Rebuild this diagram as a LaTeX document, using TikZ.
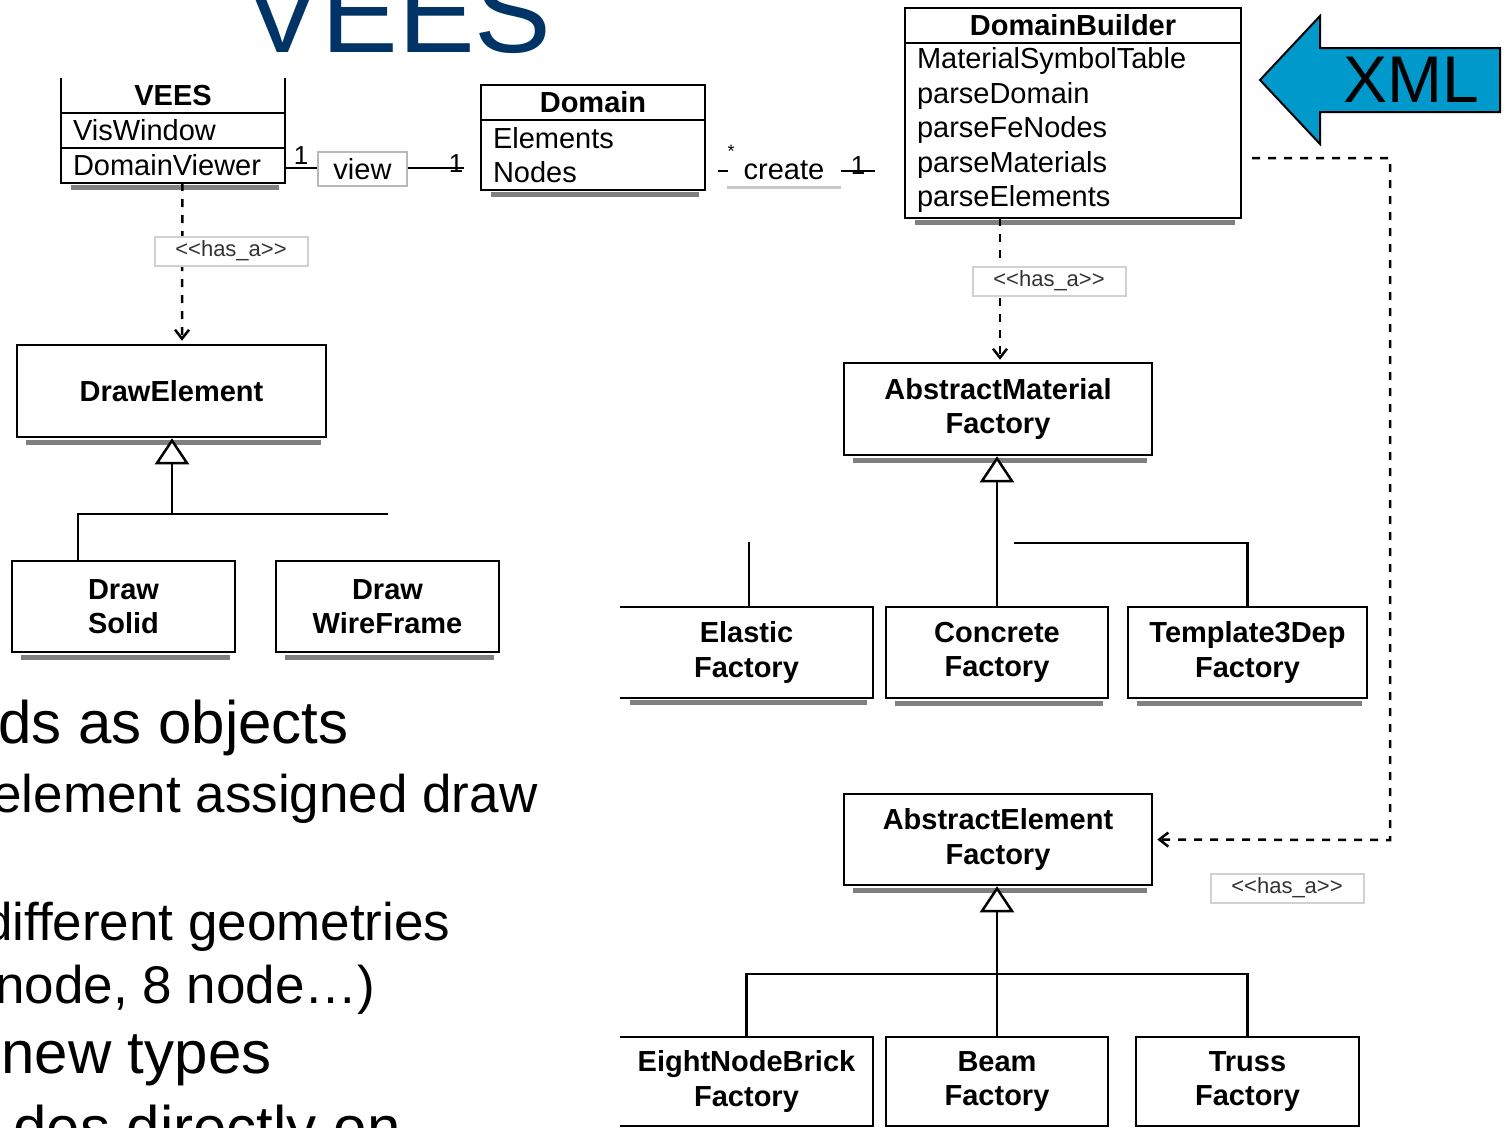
\documentclass[tikz,border=0pt]{standalone}
\usepackage{fontspec}
\setmainfont{Liberation Sans}
\usepackage{xcolor}
\usetikzlibrary{arrows.meta,positioning,calc}

\definecolor{titleblue}{RGB}{0,51,102}
\definecolor{xmlblue}{RGB}{0,153,204}

\newcommand{\umlfont}{\fontsize{29}{34.5}\selectfont}
\newcommand{\tagfont}{\fontsize{22}{26}\selectfont}
\newcommand{\bodyfont}{\fontsize{60}{70}\selectfont}
\newcommand{\subfont}{\fontsize{53}{62}\selectfont}

\tikzset{
  cls/.style={draw, line width=2.5pt, fill=white, font=\umlfont\bfseries, align=center,
    inner sep=0pt, minimum width=223pt, minimum height=91pt},
  hdr/.style={draw, line width=2.5pt, font=\umlfont\bfseries, inner sep=0pt, outer sep=0pt, minimum height=35pt},
  attr/.style={draw, line width=2.5pt, font=\umlfont, align=left, inner xsep=12pt, inner ysep=0pt, outer sep=0pt},
  shadowbar/.style={draw=black!50, line width=5pt},
  tree/.style={line width=2.5pt},
  inherit/.style={line width=2.5pt, -{Triangle[length=26pt,width=34pt,fill=white]}},
  hasa/.style={line width=2.5pt, dash pattern=on 8pt off 8pt, -{Straight Barb[length=9pt,width=14pt]}},
  tagbox/.style={draw=black!18, line width=2pt, fill=white, font=\tagfont, text=black!80,
    minimum width=153pt, minimum height=29pt, inner sep=0pt},
  assoc/.style={line width=2.5pt},
  mult/.style={font=\fontsize{26}{26}\selectfont, inner sep=0pt},
}

\begin{document}
\begin{tikzpicture}[x=1pt, y=-1pt]
  \useasboundingbox (0,0) rectangle (1509,1127);
  \clip (0,0) rectangle (1509,1127);

  % Title
  \node[font=\fontsize{115}{115}\selectfont, text=titleblue, anchor=base] (title) at (398,52) {VEES};

  % Slide text (cut at the left)
  \node[anchor=base east, font=\bodyfont] (txt1) at (352,743) {ds as objects};
  \node[anchor=base east, font=\subfont] (txt2) at (541,812) {element assigned draw};
  \node[anchor=base east, font=\subfont] (txt3) at (454,940) {different geometries};
  \node[anchor=base east, font=\subfont] (txt4) at (379,1003) {node, 8 node…)};
  \node[anchor=base east, font=\bodyfont] (txt5) at (275,1073) {new types};
  \node[anchor=base east, font=\bodyfont] (txt6) at (404,1148) {des directly on};

  % VEES class (top edge hidden)
  \node[hdr, draw=none, minimum width=224pt] (vees) at (173,95.5) {VEES};
  \draw[tree] (vees.north west) -- (vees.south west) -- (vees.south east) -- (vees.north east);
  \node[attr, text width=200pt, minimum height=35pt, below=0pt of vees] (vees-win) {VisWindow};
  \node[attr, text width=200pt, minimum height=35pt, below=0pt of vees-win] (vees-view) {DomainViewer};

  % Domain class
  \node[hdr, minimum width=224pt] (dom) at (593,102.5) {Domain};
  \node[attr, text width=200pt, minimum height=70pt, below=0pt of dom] (dom-body) {Elements\\Nodes};

  % DomainBuilder class
  \node[hdr, minimum width=336pt] (db) at (1073,25.5) {DomainBuilder};
  \node[attr, text width=312pt, minimum height=175pt, below=0pt of db] (db-body)
    {MaterialSymbolTable\\parseDomain\\parseFeNodes\\parseMaterials\\parseElements};

  % XML arrow
  \draw[line width=2pt, fill=xmlblue] (1260,80) -- (1320,16) -- (1320,48) -- (1500,48)
    -- (1500,112) -- (1320,112) -- (1320,144) -- cycle;
  \node[font=\fontsize{66}{66}\selectfont] (xml) at (1411,80) {XML};

  % Draw classes
  \node[cls, minimum width=309pt, minimum height=92pt] (drawel) at (171.5,391) {DrawElement};
  \node[cls] (solid) at (123.5,606.5) {Draw\\Solid};
  \node[cls] (wire) at (387.5,606.5) {Draw\\WireFrame};

  % Material factories
  \node[cls, minimum width=308pt, minimum height=92pt] (absmat) at (998,409) {AbstractMaterial\\Factory};
  \node[cls, draw=none, outer sep=0pt, minimum width=253pt] (elastic) at (746.5,652.5) {Elastic\\Factory};
  \draw[tree] (elastic.north west) -- (elastic.north east) -- (elastic.south east) -- (elastic.south west);
  \node[cls, minimum width=222pt] (concrete) at (997,652.5) {Concrete\\Factory};
  \node[cls, minimum width=239pt] (template) at (1247.5,652.5) {Template3Dep\\Factory};

  % Element factories
  \node[cls, minimum width=308pt] (abselem) at (998,839.5) {AbstractElement\\Factory};
  \node[cls, draw=none, outer sep=0pt, minimum width=253pt, minimum height=89pt] (eight) at (746.5,1081.5) {EightNodeBrick\\Factory};
  \draw[tree] (eight.north west) -- (eight.north east) -- (eight.south east) -- (eight.south west);
  \node[cls, minimum width=222pt, minimum height=89pt] (beam) at (997,1081.5) {Beam\\Factory};
  \node[cls, minimum height=89pt] (truss) at (1247.5,1081.5) {Truss\\Factory};

  % Shadows
  \foreach \n in {vees-view, dom-body, db-body, drawel, solid, wire, absmat, elastic,
                  concrete, template, abselem, eight, beam, truss}
    \draw[shadowbar] ([xshift=10pt,yshift=-4pt]\n.south west) -- ([xshift=-6pt,yshift=-4pt]\n.south east);

  % Inheritance trees
  \coordinate (de-bus) at (172,514);
  \draw[tree] ([xshift=-45.5pt]solid.north) |- (de-bus) -- (de-bus -| wire.north);
  \draw[inherit] (de-bus) -- (de-bus |- drawel.south);

  \coordinate (mat-bus) at (1014,543);
  \coordinate (el-stub) at (749,542);
  \draw[inherit] (concrete.north) -- (concrete.north |- absmat.south);
  \draw[tree] (mat-bus) -| (template.north);
  \draw[tree] (el-stub) -- (el-stub |- elastic.north);

  \coordinate (ef-bus) at (997,974);
  \draw[inherit] (beam.north) -- (beam.north |- abselem.south);
  \draw[tree] (eight.north) |- (ef-bus) -| (truss.north);

  % has_a dependencies
  \draw[hasa, shorten >=3pt] ([xshift=9.5pt]vees-view.south) -- ([xshift=10.5pt]drawel.north);
  \draw[hasa, shorten >=2pt] ([xshift=-73pt]db-body.south) -- ([xshift=2pt]absmat.north);
  \coordinate (xml-bend) at (1390,840);
  \draw[hasa, shorten >=4pt] ([xshift=11pt,yshift=-27.5pt]db-body.east) -| (xml-bend) -- (abselem.east);
  \node[tagbox] (tag-draw) at (231,251) {<{}<has\_a>{}>};
  \node[tagbox] (tag-mat) at (1049,281) {<{}<has\_a>{}>};
  \node[tagbox] (tag-elem) at (1287,888) {<{}<has\_a>{}>};

  % view association
  \coordinate (view-l) at ([yshift=-2.5pt]vees-view.east);
  \draw[assoc, shorten >=17pt] (view-l) -- (view-l -| dom-body.west);
  \node[draw=black!28, line width=2pt, fill=white, font=\umlfont, inner sep=0pt,
    minimum width=89pt, minimum height=34pt] (view) at (362.5,169) {view};
  \node[mult] (view-m1) at (301,156) {1};
  \node[mult] (view-m2) at (456,164) {1};

  % create association
  \draw[assoc, shorten <=13pt, shorten >=30pt] (dom-body.east |- 0,171) -- (db-body.west |- 0,171);
  \node[fill=white, font=\umlfont, inner sep=0pt, minimum width=113pt, minimum height=34pt] (create) at (784,170) {create};
  \draw[draw=black!22, line width=3pt] (create.south west) -- (create.south east);
  \node[mult, font=\fontsize{18}{18}\selectfont] (create-m1) at (731,151) {*};
  \node[mult] (create-m2) at (858,166) {1};
\end{tikzpicture}
\end{document}
